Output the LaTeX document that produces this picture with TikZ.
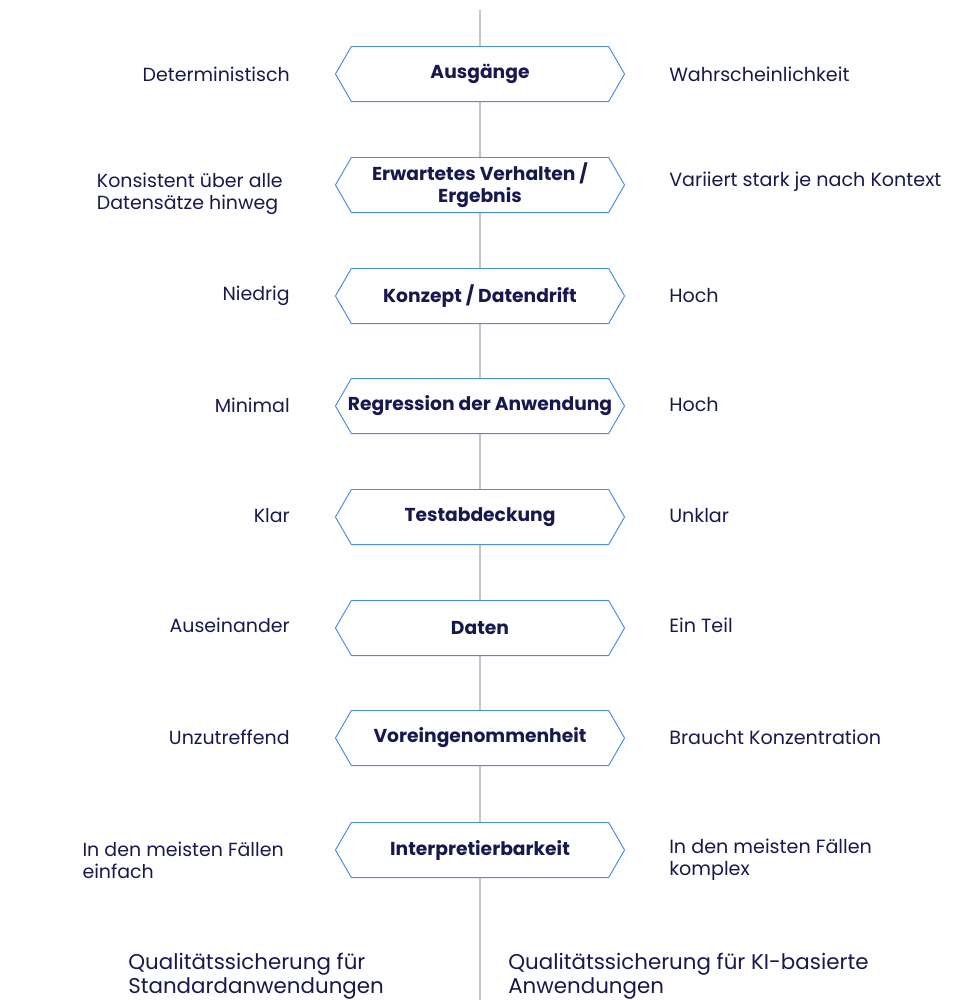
\documentclass[tikz,border=0pt]{standalone}
\usepackage{fontspec}
\setmainfont{Poppins}
\usetikzlibrary{shapes.symbols}
\definecolor{inkblue}{RGB}{24,24,80}
\definecolor{edgeblue}{RGB}{74,144,226}
\definecolor{spinegray}{RGB}{196,196,196}
\tikzset{
	topic/.style={signal, signal to=west and east, signal pointer angle=120, draw=edgeblue, line width=0.7pt, fill=white, minimum width=7.225cm, minimum height=1.375cm, inner sep=0pt, text=inkblue, align=center, font=\fontsize{13.3}{15.6}\selectfont\bfseries},
	lefttext/.style={anchor=east, inner sep=0pt, align=left, text=inkblue, font=\fontsize{13.5}{15.6}\selectfont},
	righttext/.style={anchor=west, inner sep=0pt, align=left, text=inkblue, font=\fontsize{13.6}{15.6}\selectfont},
	titletext/.style={anchor=north west, inner sep=0pt, align=left, text=inkblue, font=\fontsize{15.2}{17}\selectfont},
}
\begin{document}
\begin{tikzpicture}[x=0.025cm, y=-0.025cm]
		\useasboundingbox (0,0) rectangle (968,1000);
		\coordinate (spinetop) at (480,10);
		\coordinate (spinebottom) at (480,1000);
		\draw[spinegray, line width=1.2pt] (spinetop) -- (spinebottom);
		% middle column
		\node[topic] (outputs) at (480,74) {Ausgänge};
		\node[topic] (behaviour) at (480,185) {Erwartetes Verhalten /\\Ergebnis};
		\node[topic] (drift) at (480,296) {Konzept / Datendrift};
		\node[topic, inner xsep=-24pt] (regression) at (480,406) {Regression der Anwendung};
		\node[topic] (coverage) at (480,517) {Testabdeckung};
		\node[topic] (data) at (480,628) {Daten};
		\node[topic] (bias) at (480,738) {Voreingenommenheit};
		\node[topic] (interpret) at (480,850) {Interpretierbarkeit};
		% standard apps
		\node[lefttext] (outputsl) at (290,74) {Deterministisch};
		\node[lefttext] (behaviourl) at (283,194) {Konsistent über alle\\Datensätze hinweg};
		\node[lefttext] (driftl) at (290,296) {Niedrig};
		\node[lefttext] (regressionl) at (290,405) {Minimal};
		\node[lefttext] (coveragel) at (290,516) {Klar};
		\node[lefttext] (datal) at (290,625) {Auseinander};
		\node[lefttext] (biasl) at (290,737) {Unzutreffend};
		\node[lefttext] (interpretl) at (284,860) {In den meisten Fällen\\einfach};
		% ai apps
		\node[righttext] (outputsr) at (669,74) {Wahrscheinlichkeit};
		\node[righttext] (behaviourr) at (669,182) {Variiert stark je nach Kontext};
		\node[righttext] (driftr) at (669,296) {Hoch};
		\node[righttext] (regressionr) at (669,405) {Hoch};
		\node[righttext] (coverager) at (669,516) {Unklar};
		\node[righttext] (datar) at (669,625) {Ein Teil};
		\node[righttext] (biasr) at (669,737) {Braucht Konzentration};
		\node[righttext] (interpretr) at (669,860) {In den meisten Fällen\\komplex};
		% column titles
		\node[titletext] (standard) at (128,953) {Qualitätssicherung für\\Standardanwendungen};
		\node[titletext] (aibased) at (508,953) {Qualitätssicherung für KI-basierte\\Anwendungen};
\end{tikzpicture}
\end{document}
